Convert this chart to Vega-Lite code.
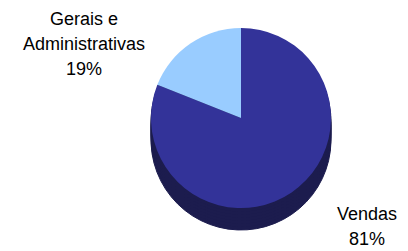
{
  "$schema": "https://vega.github.io/schema/vega-lite/v6.json",
  "width": 408,
  "height": 251,
  "autosize": {"type": "fit", "contains": "padding"},
  "padding": 0,
  "background": "white",
  "view": {"stroke": null},
  "config": {"font": "Liberation Sans"},
  "data": {
    "values": [
      {"category": "Vendas", "pct": 81, "label": "Vendas\n81%"},
      {"category": "Gerais e Administrativas", "pct": 19, "label": "Gerais e\nAdministrativas\n19%"}
    ]
  },
  "layer": [
    {"mark": {"type": "arc", "radius": 90, "xOffset": 37, "yOffset": 14.5, "color": "#1C1C4E", "stroke": "#1C1C4E", "strokeWidth": 1},
     "encoding": {"theta": {"field": "pct", "type": "quantitative", "stack": true}, "order": {"field": "pct", "sort": "descending"}}},
    {"mark": {"type": "arc", "radius": 90, "xOffset": 37, "yOffset": 11, "color": "#1C1C4E", "stroke": "#1C1C4E", "strokeWidth": 1},
     "encoding": {"theta": {"field": "pct", "type": "quantitative", "stack": true}, "order": {"field": "pct", "sort": "descending"}}},
    {"mark": {"type": "arc", "radius": 90, "xOffset": 37, "yOffset": 8, "color": "#1C1C4E", "stroke": "#1C1C4E", "strokeWidth": 1},
     "encoding": {"theta": {"field": "pct", "type": "quantitative", "stack": true}, "order": {"field": "pct", "sort": "descending"}}},
    {"mark": {"type": "arc", "radius": 90, "xOffset": 37, "yOffset": 5, "color": "#1C1C4E", "stroke": "#1C1C4E", "strokeWidth": 1},
     "encoding": {"theta": {"field": "pct", "type": "quantitative", "stack": true}, "order": {"field": "pct", "sort": "descending"}}},
    {"mark": {"type": "arc", "radius": 90, "xOffset": 37, "yOffset": 2, "color": "#1C1C4E", "stroke": "#1C1C4E", "strokeWidth": 1},
     "encoding": {"theta": {"field": "pct", "type": "quantitative", "stack": true}, "order": {"field": "pct", "sort": "descending"}}},
    {"mark": {"type": "arc", "radius": 90, "xOffset": 37, "yOffset": -1, "color": "#1C1C4E", "stroke": "#1C1C4E", "strokeWidth": 1},
     "encoding": {"theta": {"field": "pct", "type": "quantitative", "stack": true}, "order": {"field": "pct", "sort": "descending"}}},
    {"mark": {"type": "arc", "radius": 90, "xOffset": 37, "yOffset": -4, "color": "#1C1C4E", "stroke": "#1C1C4E", "strokeWidth": 1},
     "encoding": {"theta": {"field": "pct", "type": "quantitative", "stack": true}, "order": {"field": "pct", "sort": "descending"}}},
    {"mark": {"type": "arc", "radius": 90, "xOffset": 37, "yOffset": -7.5},
     "encoding": {
       "theta": {"field": "pct", "type": "quantitative", "stack": true},
       "order": {"field": "pct", "sort": "descending"},
       "color": {"field": "category", "type": "nominal", "legend": null,
                 "scale": {"domain": ["Vendas", "Gerais e Administrativas"], "range": ["#333399", "#99CCFF"]}}
     }},
    {"mark": {"type": "text", "fontSize": 18, "lineHeight": 25, "lineBreak": "\n", "align": "center", "baseline": "alphabetic", "color": "#000000"},
     "encoding": {
       "x": {"field": "category", "type": "nominal", "axis": null,
             "scale": {"type": "point", "padding": 0, "domain": ["Gerais e Administrativas", "Vendas"], "range": [84, 367]}},
       "y": {"field": "category", "type": "nominal", "axis": null,
             "scale": {"type": "point", "padding": 0, "domain": ["Gerais e Administrativas", "Vendas"], "range": [25, 220]}},
       "text": {"field": "label"}
     }}
  ]
}
